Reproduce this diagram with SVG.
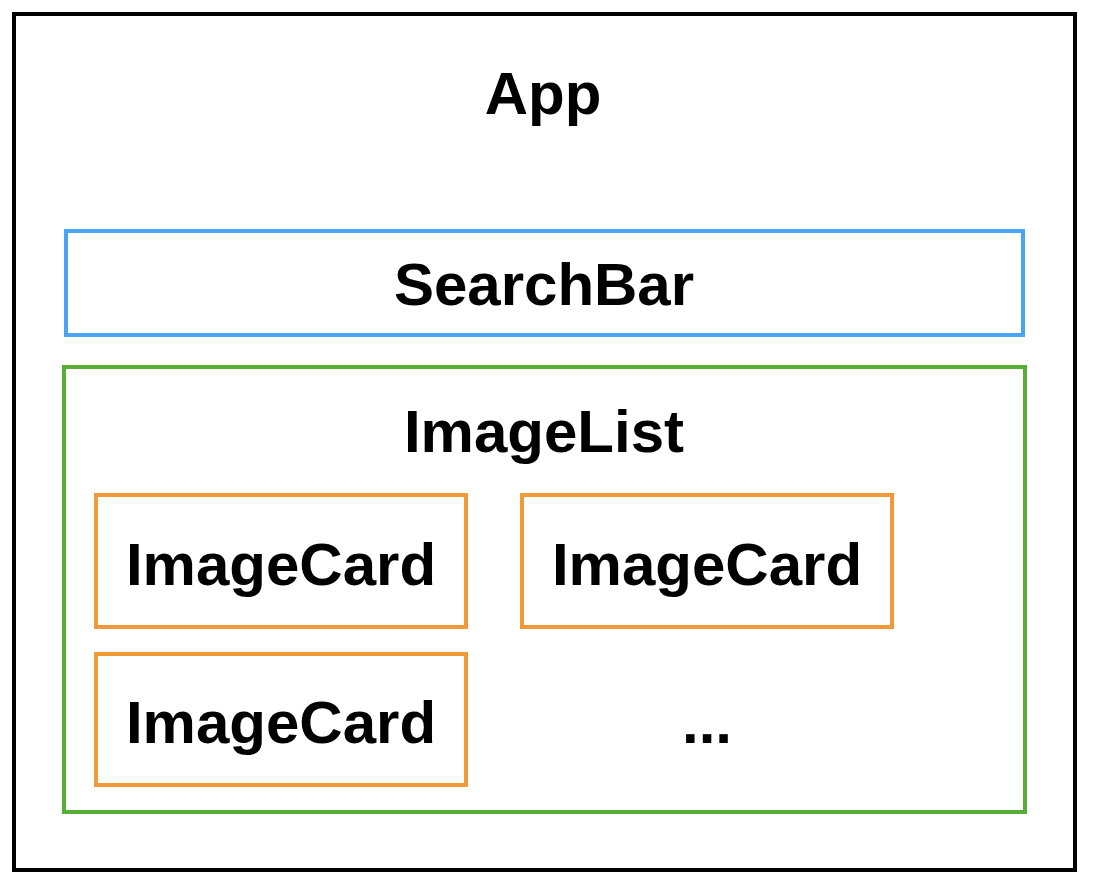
<svg xmlns="http://www.w3.org/2000/svg" width="1094" height="888" viewBox="0 0 1094 888">
<style>
.lbl{font-family:"Liberation Sans",Arial,Helvetica,sans-serif;font-weight:bold;font-size:60px;fill:#000;text-anchor:middle}
.box{fill:none;stroke-width:4}
.app{stroke:#000}
.search{stroke:#4aa4f6}
.list{stroke:#57ad36}
.card{stroke:#f29a3a}
</style>
<rect width="1094" height="888" fill="#fff"/>
<g id="app">
<rect class="box app" x="14" y="14" width="1061" height="856"/>
<text class="lbl" x="543" y="114">App</text>
</g>
<g id="searchbar">
<rect class="box search" x="66" y="231" width="957" height="104"/>
<text class="lbl" x="544" y="305">SearchBar</text>
</g>
<g id="imagelist">
<rect class="box list" x="64" y="367" width="961" height="445"/>
<text class="lbl" x="544" y="452">ImageList</text>
</g>
<g id="imagecard1">
<rect class="box card" x="96" y="495" width="370" height="132"/>
<text class="lbl" x="281" y="585">ImageCard</text>
</g>
<g id="imagecard2">
<rect class="box card" x="522" y="495" width="370" height="132"/>
<text class="lbl" x="707" y="585">ImageCard</text>
</g>
<g id="imagecard3">
<rect class="box card" x="96" y="654" width="370" height="131"/>
<text class="lbl" x="281" y="743">ImageCard</text>
</g>
<g id="more">
<text class="lbl" x="707" y="743">...</text>
</g>
<g id="connectors"></g>
</svg>
